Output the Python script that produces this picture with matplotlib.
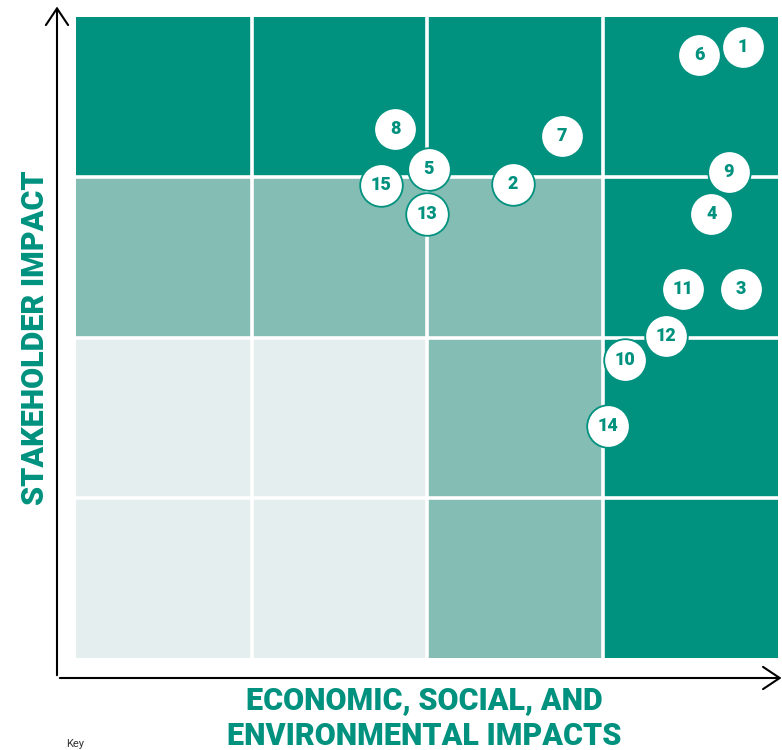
import numpy as np
import matplotlib
matplotlib.use("Agg")
import matplotlib.pyplot as plt
from matplotlib.patches import Rectangle, FancyArrowPatch

TEAL = "#00917F"
MID = "#84BDB3"
LIGHT = "#E4EEEE"

# cell shading, rows top -> bottom, columns left -> right
cell_levels = [
    ["D", "D", "D", "D"],
    ["M", "M", "M", "D"],
    ["L", "L", "M", "D"],
    ["L", "L", "M", "D"],
]
level_colors = {"D": TEAL, "M": MID, "L": LIGHT}

# topics: x = economic/social/environmental impact, y = stakeholder impact (0-4 scale)
labels = ["1", "2", "3", "4", "5", "6", "7", "8", "9", "10", "11", "12", "13", "14", "15"]
x_vals = [3.80, 2.49, 3.79, 3.62, 2.01, 3.55, 2.77, 1.82, 3.72, 3.13, 3.46, 3.36, 2.00, 3.03, 1.74]
y_vals = [3.81, 2.96, 2.30, 2.77, 3.05, 3.76, 3.26, 3.30, 3.03, 1.86, 2.30, 2.01, 2.77, 1.45, 2.95]

fig = plt.figure(figsize=(7.82, 7.5), dpi=100)
ax = fig.add_axes([76 / 782, 92 / 750, 702 / 782, 641 / 750])
ax.set_xlim(0, 4)
ax.set_ylim(0, 4)
for s in ax.spines.values():
    s.set_visible(False)
ax.set_xticks([]); ax.set_yticks([])

nrows = len(cell_levels)
for r, row in enumerate(cell_levels):
    for c, lev in enumerate(row):
        ax.add_patch(Rectangle((c, nrows - 1 - r), 1, 1, facecolor=level_colors[lev],
                               edgecolor="none", zorder=1))
for k in range(1, 4):
    ax.axvline(k, color="white", lw=2.6, zorder=2)
    ax.axhline(k, color="white", lw=2.6, zorder=2)

# draw circles in order so later ones overlap earlier ones like the reference
order = [0, 5, 7, 6, 4, 8, 14, 1, 12, 3, 10, 2, 11, 9, 13]
for n, i in enumerate(order):
    ax.scatter(x_vals[i], y_vals[i], s=940, facecolor="white", edgecolor=TEAL,
               linewidth=1.3, zorder=3 + n * 0.01, clip_on=False)
    ax.text(x_vals[i], y_vals[i], labels[i], ha="center", va="center", color=TEAL,
            fontsize=13, fontweight="heavy", family="Roboto", zorder=3.005 + n * 0.01)

# axis arrows
ax0 = 57 / 782
ay0 = 72 / 750
for end in [(ax0, 0.995), (1.003, ay0)]:
    fig.add_artist(FancyArrowPatch((ax0, ay0), end, transform=fig.transFigure,
                                   arrowstyle="->,head_length=0.6,head_width=0.4",
                                   mutation_scale=20, color="black", lw=1.5))

fig.text(424 / 782, (750 - 700) / 750, "ECONOMIC, SOCIAL, AND", ha="center", va="center",
         color=TEAL, fontsize=22, fontweight="heavy", family="Roboto")
fig.text(424 / 782, (750 - 736) / 750, "ENVIRONMENTAL IMPACTS", ha="center", va="center",
         color=TEAL, fontsize=22, fontweight="heavy", family="Roboto")
fig.text(35 / 782, (750 - 338) / 750, "STAKEHOLDER IMPACT", ha="center", va="center",
         rotation=90, color=TEAL, fontsize=22, fontweight="heavy", family="Roboto")
fig.text(66 / 782, 1 / 750, "Key", ha="left", va="bottom", color="#333333", fontsize=8,
         family="Roboto")

fig.savefig("out.png", dpi=100)
